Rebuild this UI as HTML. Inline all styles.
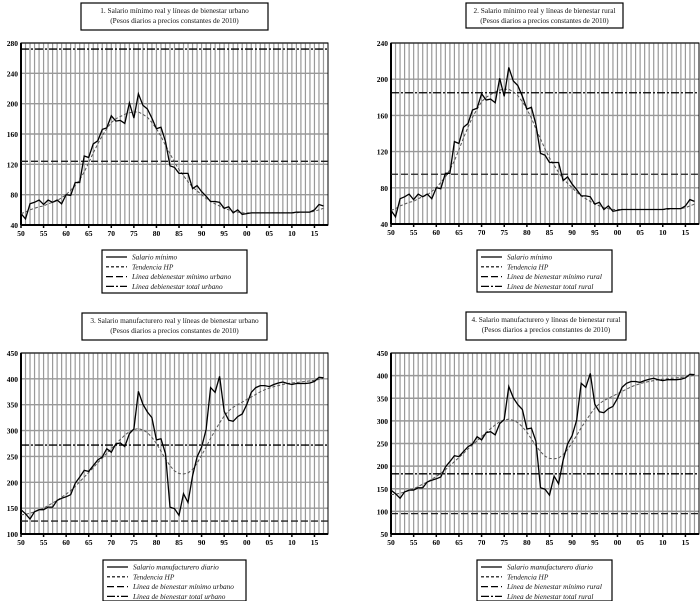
<!DOCTYPE html>
<html><head><meta charset="utf-8">
<style>
body{margin:0;background:#fff;width:700px;height:601px;overflow:hidden;font-family:"Liberation Serif",serif;}
svg{position:absolute;left:0;top:0}
</style></head>
<body>
<svg id="chart" width="700" height="601" viewBox="0 0 700 601"></svg>
<script>
const years = [];
for (let y = 1950; y <= 2017; y++) years.push(y);
const minWage = [55,48,68,70,73,67,73,70,73,68,80,79,96,96,131,129,147,151,166,168,184,177,178,174,201,181,213,198,193,181,167,169,150,118,116,108,108,108,88,92,84,78,71,71,70,62,64,56,60,54,55,56,56,56,56,56,56,56,56,56,56,57,57,57,57,60,67,65];
const minTrend = [55,57,60,62,64,65,68,70,72,76,80,86,92,100,110,122,135,147,158,167,175,180,183,186,188,189,189,186,182,175,167,157,145,134,123,113,105,97,90,85,80,75,71,68,65,62,60,58,57,56,56,56,56,56,56,56,56,56,56,56,56,56,57,57,57,58,60,62];
const manWage = [147,139,129,143,147,147,152,152,165,169,172,176,198,210,223,221,232,243,249,265,258,274,276,269,294,303,376,351,336,325,282,284,255,152,149,136,178,161,213,249,268,302,383,374,405,337,320,318,327,332,350,374,383,387,387,385,389,392,394,391,389,391,391,391,392,395,403,402];
const manTrend = [137,138,140,143,146,150,155,160,165,171,177,184,192,201,210,219,228,238,247,256,265,274,283,291,298,302,304,301,296,287,275,260,245,232,222,217,216,218,225,237,252,268,285,300,315,328,338,345,350,355,360,365,370,375,379,382,385,387,389,391,392,393,394,395,396,397,399,401];
const lineValues = {p1:[124,272], p2:[95,185], p3:[125,272], p4:[95,183]};
const yTicks1 = [40,80,120,160,200,240,280];
const yTicks2 = [40,80,120,160,200,240];
const yTicks3 = [100,150,200,250,300,350,400,450];
const yTicks4 = [50,100,150,200,250,300,350,400,450];
const xTickYears = [1950,1955,1960,1965,1970,1975,1980,1985,1990,1995,2000,2005,2010,2015];
const xTickLabels = ['50','55','60','65','70','75','80','85','90','95','00','05','10','15'];

const NS='http://www.w3.org/2000/svg';
const svg=document.getElementById('chart');
function mk(tag,attrs,parent){const e=document.createElementNS(NS,tag);for(const k in attrs)e.setAttribute(k,attrs[k]);(parent||svg).appendChild(e);return e;}

const panels=[
 {id:'p1',x0:21,x1:328,y0:43,y1:225,ymin:40,ymax:280,ticks:yTicks1,wage:minWage,trend:minTrend,lines:lineValues.p1,
  title:['1. Salario mínimo real y líneas de bienestar urbano','(Pesos diarios a precios constantes de 2010)'],tb:[81,3,187,27],
  leg:[102,250,145,43],legText:['Salario mínimo','Tendencia HP','Línea debienestar mínimo urbano','Línea debienestar total urbano']},
 {id:'p2',x0:391,x1:699,y0:43,y1:224,ymin:40,ymax:240,ticks:yTicks2,wage:minWage,trend:minTrend,lines:lineValues.p2,
  title:['2. Salario mínimo real y líneas de bienestar rural','(Pesos diarios a precios constantes de 2010)'],tb:[466,3,157,25],
  leg:[477,250,135,42],legText:['Salario mínimo','Tendencia HP','Línea de bienestar mínimo rural','Línea de bienestar total rural']},
 {id:'p3',x0:21,x1:328,y0:353,y1:534,ymin:100,ymax:450,ticks:yTicks3,wage:manWage,trend:manTrend,lines:lineValues.p3,
  title:['3. Salario manufacturero real y líneas de bienestar urbano','(Pesos diarios a precios constantes de 2010)'],tb:[82,313,185,27],
  leg:[103,560,143,41],legText:['Salario manufacturero diario','Tendencia HP','Línea de bienestar mínimo urbano','Línea de bienestar total urbano']},
 {id:'p4',x0:391,x1:699,y0:353,y1:534,ymin:50,ymax:450,ticks:yTicks4,wage:manWage,trend:manTrend,lines:lineValues.p4,
  title:['4. Salario manufacturero y líneas de bienestar rural','(Pesos diarios a precios constantes de 2010)'],tb:[466,312,160,28],
  leg:[477,560,135,41],legText:['Salario manufacturero diario','Tendencia HP','Línea de bienestar mínimo rural','Línea de bienestar total rural']}
];

panels.forEach(p=>{
  const g=mk('g',{});
  
  
  const xs=yr=>p.x0+(yr-1950)/(2018-1950)*(p.x1-p.x0);
  const ys=v=>p.y1-(v-p.ymin)/(p.ymax-p.ymin)*(p.y1-p.y0);
  const tb=mk('rect',{x:p.tb[0],y:p.tb[1],width:p.tb[2],height:p.tb[3],fill:'#fff',stroke:'#000','stroke-width':1.2},g);
  
  
  p.title.forEach((t,i)=>{const e=mk('text',{x:p.tb[0]+p.tb[2]/2,y:p.tb[1]+10+i*10,'text-anchor':'middle','font-size':7.3,fill:'#111'},g);e.textContent=t;
    
    });
  for(let yr=1951;yr<2018;yr++){const l=mk('line',{x1:xs(yr),x2:xs(yr),y1:p.y0,y2:p.y1,stroke:'#999','stroke-width':1.2},g);
    
    }
  p.ticks.forEach(v=>{const l=mk('line',{x1:p.x0,x2:p.x1,y1:ys(v),y2:ys(v),stroke:'#999','stroke-width':1.4},g);
    
    
    const t=mk('text',{x:p.x0-3,y:ys(v)+3,'text-anchor':'end','font-size':7.5,'font-weight':'bold',fill:'#000'},g);t.textContent=v;
    
    });
  const fr=mk('rect',{x:p.x0,y:p.y0,width:p.x1-p.x0,height:p.y1-p.y0,fill:'none',stroke:'#000','stroke-width':1},g);
  
  
  mk('line',{x1:p.x0,x2:p.x1,y1:p.y1,y2:p.y1,stroke:'#000','stroke-width':2},g);
  mk('line',{x1:p.x0,x2:p.x0,y1:p.y0,y2:p.y1,stroke:'#000','stroke-width':2},g);
  xTickYears.forEach((yr,i)=>{mk('line',{x1:xs(yr),x2:xs(yr),y1:p.y1,y2:p.y1+3,stroke:'#000','stroke-width':1.5},g);
    const t=mk('text',{x:xs(yr),y:p.y1+11,'text-anchor':'middle','font-size':7.5,'font-weight':'bold',fill:'#000'},g);t.textContent=xTickLabels[i];
    
    });
  const mn=mk('line',{x1:p.x0,x2:p.x1,y1:ys(p.lines[0]),y2:ys(p.lines[0]),stroke:'#222','stroke-width':1.3,'stroke-dasharray':'7,3'},g);
  
  
  const tt=mk('line',{x1:p.x0,x2:p.x1,y1:ys(p.lines[1]),y2:ys(p.lines[1]),stroke:'#000','stroke-width':1.3,'stroke-dasharray':'8,2,2,2'},g);
  
  
  const tr=mk('path',{d:p.trend.map((v,i)=>(i?'L':'M')+xs(years[i]).toFixed(1)+','+ys(v).toFixed(1)).join(''),fill:'none',stroke:'#555','stroke-width':1,'stroke-dasharray':'3,2'},g);
  
  
  const w=mk('path',{d:p.wage.map((v,i)=>(i?'L':'M')+xs(years[i]).toFixed(1)+','+ys(v).toFixed(1)).join(''),fill:'none',stroke:'#000','stroke-width':1.3},g);
  
  
  const L=p.leg;
  const lb=mk('rect',{x:L[0],y:L[1],width:L[2],height:L[3],fill:'#fff',stroke:'#000','stroke-width':1.2},g);
  
  
  const dashes=['', '3,2','7,3','8,2,2,2'];
  p.legText.forEach((t,i)=>{const yy=L[1]+7+i*9.8;
    const sl=mk('line',{x1:L[0]+4,x2:L[0]+25,y1:yy,y2:yy,stroke:'#000','stroke-width':1.2,'stroke-dasharray':dashes[i]||'none'},g);
    
    
    const e=mk('text',{x:L[0]+30,y:yy+2.5,'font-size':7.3,'font-style':'italic',fill:'#111'},g);e.textContent=t;
    
    });
});
</script>
</body></html>
